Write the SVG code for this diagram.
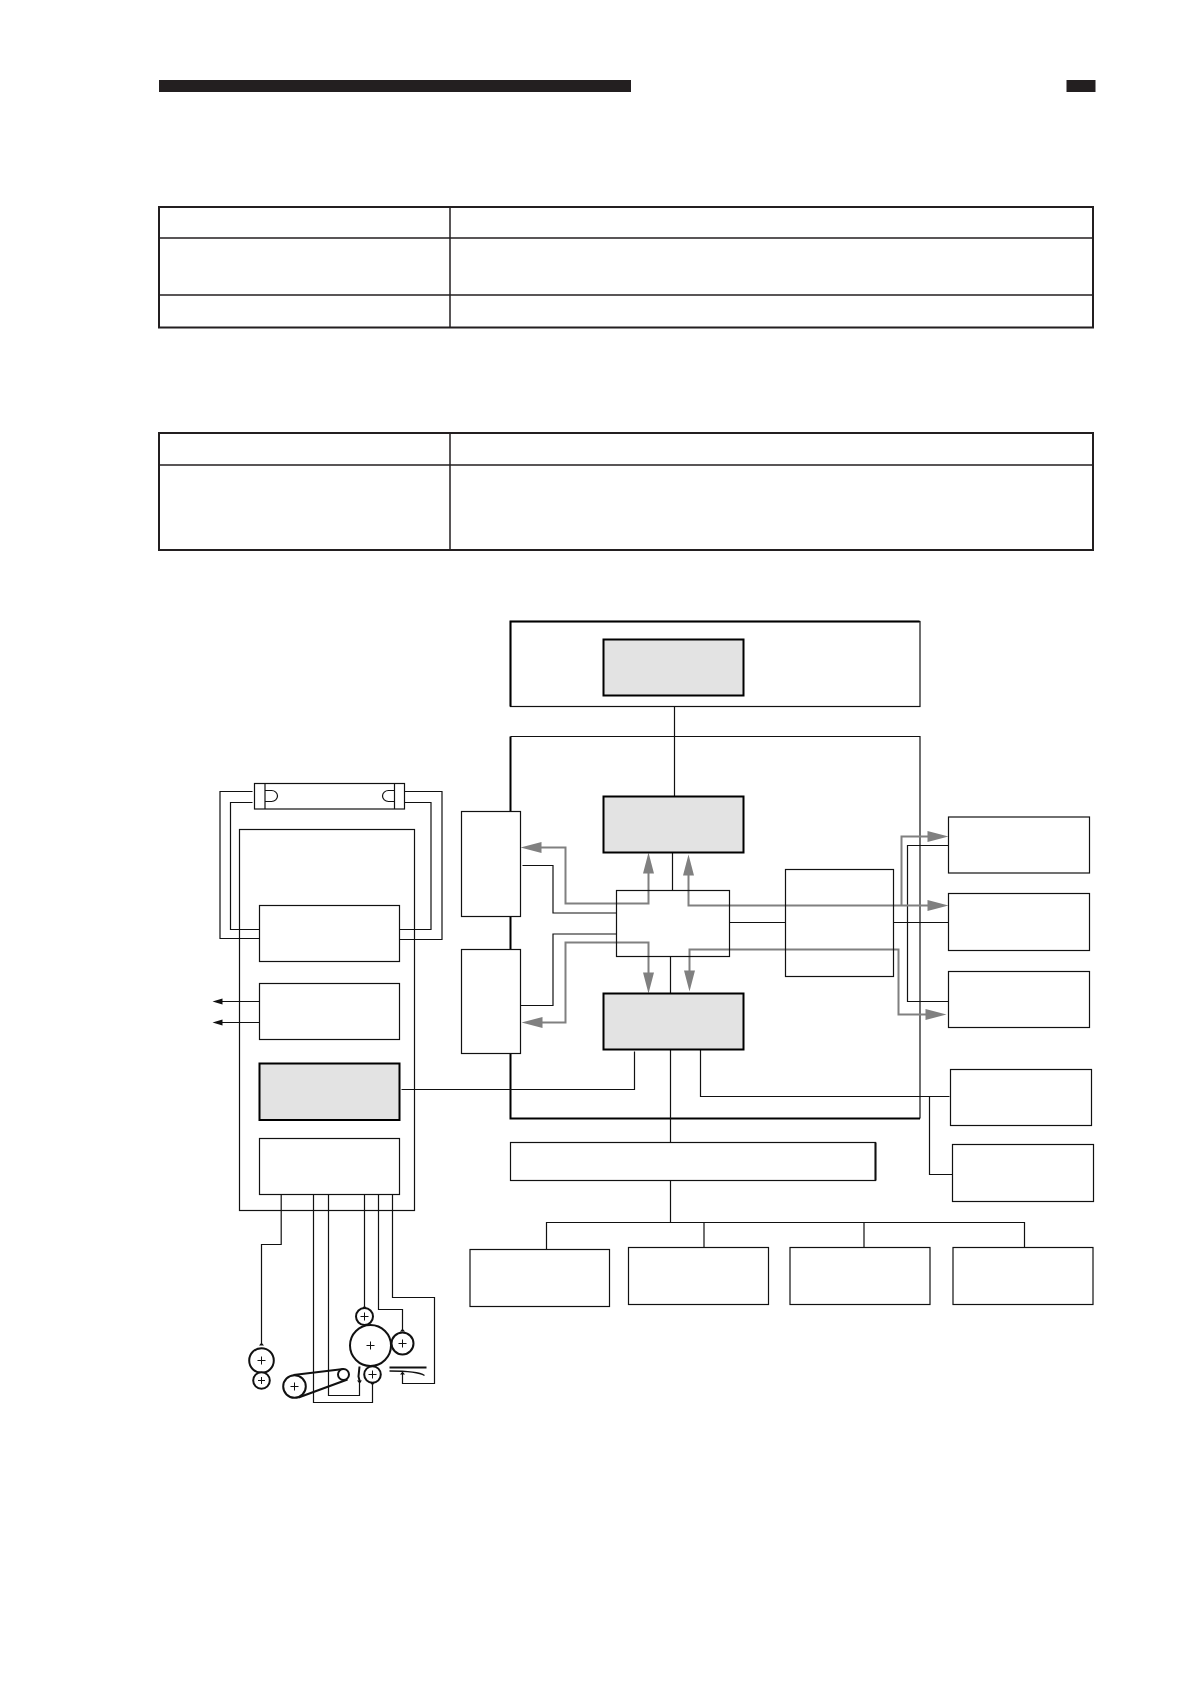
<svg xmlns="http://www.w3.org/2000/svg" width="1190" height="1684" viewBox="0 0 1190 1684">
<style>
.n{fill:#fff;stroke:#111;stroke-width:1.2}
.g{fill:#e3e3e3;stroke:#000;stroke-width:2}
.o{fill:none;stroke:#111;stroke-width:1.2}
.t{fill:none;stroke:#231f20;stroke-width:1.5}
.tb{fill:none;stroke:#231f20;stroke-width:2}
.a{fill:none;stroke:#808080;stroke-width:2}
.c{fill:#fff;stroke:#111;stroke-width:2}
.p{stroke:#111;stroke-width:1;fill:none}
.h{fill:#808080}
.k{fill:#111}
.s{fill:none;stroke:#000;stroke-width:2}
</style>
<g id="header"><rect x="159" y="80" width="472" height="12" fill="#231f20"/><rect x="1066.500" y="80" width="29" height="12" fill="#231f20"/></g>
<g id="table1"><rect class="tb" x="159" y="207" width="934" height="120.500"/><path class="t" d="M450 207V327.500M159 238H1093M159 295H1093"/></g>
<g id="table2"><rect class="tb" x="159" y="433" width="934" height="117"/><path class="t" d="M450 433V550M159 465H1093"/></g>
<g transform="translate(0.5 0.5)">
<g id="node-top"><rect class="n" x="510" y="621" width="409.500" height="85"/><path class="s" d="M510 706V621H919"/><rect class="g" x="603" y="639" width="140" height="56"/></g>
<g id="node-main"><path class="o" d="M510 736H919.500V1118"/><path class="s" d="M510 736V1118H919.500"/></g>
<g id="node-frame"><rect class="o" x="239" y="829" width="175" height="381"/></g>
<g id="connectors">
<path class="o" d="M674 706V796M672 852V890M670 956V993M670 1049V1142M670 1180V1222M546 1249V1222H1024V1247M703.500 1222V1247M863.500 1222V1247"/>
<path class="o" d="M522 865H552.500V912.500H616M520 1005H552.500V933.500H616M729 922H785M893 922H948M948 845H907V1001H948M700 1049V1096H949M929 1096V1174H952M401 1089H634V1051"/>
<path class="a" d="M535 847H565V903H648V870M535 1022H565V942H648V975M688 872V905H930M901 905V836H930M689 973V949H898V1014H926"/>
<path class="h" d="M520 847l21-5.500v11zM648 852l-5.500 21h11zM521 1022l21-5.500v11zM648 993l-5.500-21h11zM688 854l-5.500 21h11zM689 991l-5.500-21h11zM948 836l-21-5.500v11zM948 905l-21-5.500v11zM946 1014l-21-5.500v11z"/>
<path class="o" d="M252 791H219.500V938H259M252 802H230V929H259M403 791H441.500V939H399M403 802H430.500V929H399M259 1001H218M259 1022H218"/>
<path class="k" d="M212 1001l10-3v6zM212 1022l10-3v6z"/>
<path class="o" d="M280.700 1194V1244H261V1343M313 1194V1402H372V1384M328 1194V1395H359V1382M364 1194V1306M378 1194V1309H402V1329M392 1194V1297H434V1383H402V1372"/>
<path class="k" d="M261 1342l-2.500 3h5zM364 1305l-2.500 3h5zM402 1328l-2.500 3h5zM372 1385l-2.500-3h5zM359 1383l-2.500-3h5zM402 1371l-2.500 3h5z"/>
</g>
<g id="node-upper"><rect class="g" x="603" y="796" width="140" height="56"/></g>
<g id="node-lower"><rect class="g" x="603" y="993" width="140" height="56"/></g>
<g id="node-center"><rect class="o" x="616" y="890" width="113" height="66"/></g>
<g id="node-right-middle"><rect class="o" x="785" y="869" width="108" height="107"/></g>
<g id="node-a"><rect class="n" x="461" y="811" width="59" height="105"/></g>
<g id="node-b"><rect class="n" x="461" y="949" width="59" height="104"/></g>
<g id="node-r1"><rect class="n" x="948" y="816.500" width="141" height="56"/></g>
<g id="node-r2"><rect class="n" x="948" y="893" width="141" height="57"/></g>
<g id="node-r3"><rect class="n" x="948" y="971" width="141" height="56"/></g>
<g id="node-r4"><rect class="n" x="950" y="1069" width="141" height="56"/></g>
<g id="node-r5"><rect class="n" x="952" y="1144" width="141" height="57"/></g>
<g id="node-bus"><rect class="n" x="510" y="1142" width="365" height="38"/><path d="M875 1142V1180" stroke="#111" stroke-width="2"/></g>
<g id="node-b1"><rect class="n" x="469.500" y="1249" width="139.500" height="57"/></g>
<g id="node-b2"><rect class="n" x="628" y="1247" width="140" height="57"/></g>
<g id="node-b3"><rect class="n" x="789.500" y="1247" width="140" height="57"/></g>
<g id="node-b4"><rect class="n" x="952.500" y="1247" width="140" height="57"/></g>
<g id="node-l1"><rect class="n" x="259" y="905" width="140" height="56"/></g>
<g id="node-l2"><rect class="n" x="259" y="983" width="140" height="56"/></g>
<g id="node-l3"><rect class="g" x="259" y="1063" width="140" height="56.500"/></g>
<g id="node-l4"><rect class="n" x="259" y="1138" width="140" height="56"/></g>
<g id="lamp"><rect class="n" x="254" y="783" width="150" height="25.500"/><path class="o" d="M264.500 783V808.500M394 783V808.500M264.500 790H271a6 5.500 0 0 1 0 11H264.500M394 790H388a6 5.500 0 0 0 0 11H394"/></g>
<g id="rollers">
<path d="M293 1374.500L343 1368.500M298 1397L347 1379" stroke="#111" stroke-width="2.200" fill="none"/>
<circle class="c" cx="261" cy="1360" r="12.300"/><circle class="c" cx="261" cy="1380" r="8.300"/>
<circle class="c" cx="294" cy="1386" r="11.300"/><circle class="c" cx="343" cy="1374" r="5.500"/>
<circle class="c" cx="370" cy="1345" r="20.500"/><circle class="c" cx="364" cy="1316" r="8.500"/><circle class="c" cx="402" cy="1343" r="11"/><circle class="c" cx="372" cy="1374" r="8.300"/>
<path class="p" d="M257 1360h8M261 1356v8M257.500 1380h7M261 1376.500v7M290 1386h8M294 1382v8M366 1345h8M370 1341v8M360 1316h8M364 1312v8M398 1343h8M402 1339v8M368 1374h8M372 1370v8"/>
<path d="M359 1366L358 1376L359.500 1382" stroke="#111" stroke-width="2" fill="none"/>
<path d="M389 1367H426" stroke="#111" stroke-width="2" fill="none"/>
<path d="M389 1370.500C405 1370.500 418 1371 424 1375" stroke="#111" stroke-width="1.300" fill="none"/>
</g>
</g>
</svg>
